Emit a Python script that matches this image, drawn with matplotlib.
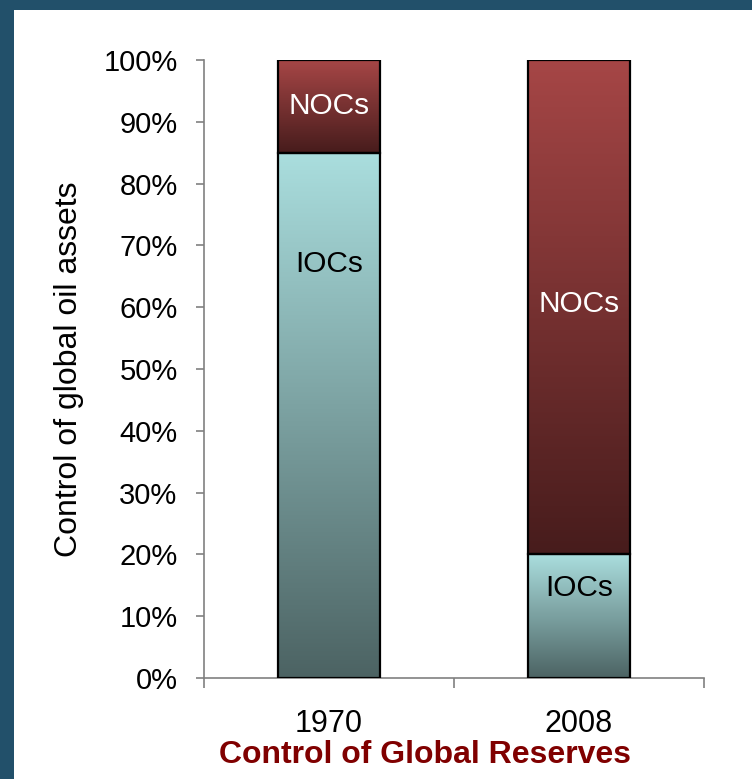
# Control of Global Reserves - stacked bars with gradient fills

import numpy as np
import matplotlib
matplotlib.use("Agg")
import matplotlib.pyplot as plt
from matplotlib.colors import LinearSegmentedColormap
from matplotlib.patches import Rectangle

plt.rcParams['font.family'] = ['Liberation Sans', 'DejaVu Sans']

# Data
years = ['1970', '2008']
iocs = [85, 20]
nocs = [15, 80]
segment_names = ['IOCs', 'NOCs']
yticks = [0, 10, 20, 30, 40, 50, 60, 70, 80, 90, 100]

# Where the labels sit inside each segment (percent)
ioc_label_y = [67, 14.5]
noc_label_y = [92.5, 60.5]

ioc_cmap = LinearSegmentedColormap.from_list('ioc', ['#4c6363', '#aadede'])
noc_cmap = LinearSegmentedColormap.from_list('noc', ['#471c1c', '#a64646'])

fig = plt.figure(figsize=(7.52, 7.79), dpi=100)
fig.patch.set_facecolor('#22506a')
fig.patches.append(Rectangle((14 / 752, 0), 1, 1 - 10 / 779, transform=fig.transFigure,
                             facecolor='white', edgecolor='none', zorder=-10))

ax = fig.add_axes([204 / 752, 1 - 678 / 779, 500 / 752, 618 / 779])
ax.set_facecolor('none')
ax.set_zorder(5)

x = np.arange(len(years))
width = 0.41
grad = np.linspace(0, 1, 256).reshape(-1, 1)

def grad_bar(xc, bottom, height, cmap):
    ax.imshow(grad, extent=(xc - width / 2, xc + width / 2, bottom, bottom + height),
              origin='lower', cmap=cmap, aspect='auto', zorder=2, interpolation='bilinear')
    ax.bar(xc, height, width, bottom=bottom, facecolor='none', edgecolor='black',
           linewidth=1.6, zorder=3)

for i in range(len(years)):
    grad_bar(x[i], 0, iocs[i], ioc_cmap)
    grad_bar(x[i], iocs[i], nocs[i], noc_cmap)
    ax.text(x[i], ioc_label_y[i], segment_names[0], ha='center', va='center',
            fontsize=21.5, color='black', zorder=4)
    ax.text(x[i], noc_label_y[i], segment_names[1], ha='center', va='center',
            fontsize=21.5, color='white', zorder=4)

ax.set_xlim(-0.5, 1.5)
ax.set_ylim(0, 100)
ax.set_yticks(yticks)
ax.set_yticklabels([f'{t}%' for t in yticks], fontsize=21)
ax.set_xticks([-0.5, 0.5, 1.5])
ax.set_xticklabels([])
ax.set_xticks(x, minor=True)
ax.set_xticklabels(years, minor=True, fontsize=22)
ax.tick_params(axis='x', which='major', length=7, color='#808080', width=1.2)
ax.tick_params(axis='x', which='minor', length=0, pad=22)
ax.tick_params(axis='y', length=6, color='#808080', width=1.2, pad=13)

for side in ['top', 'right']:
    ax.spines[side].set_visible(False)
for side in ['left', 'bottom']:
    ax.spines[side].set_color('#808080')
    ax.spines[side].set_linewidth(1.2)

ax.set_ylabel('Control of global oil assets', fontsize=23, labelpad=14)
fig.text(425 / 752, 1 - 755 / 779, 'Control of Global Reserves', ha='center', va='center',
         fontsize=23, fontweight='bold', color='#800000')

plt.savefig('out.png', dpi=100, facecolor=fig.get_facecolor())
